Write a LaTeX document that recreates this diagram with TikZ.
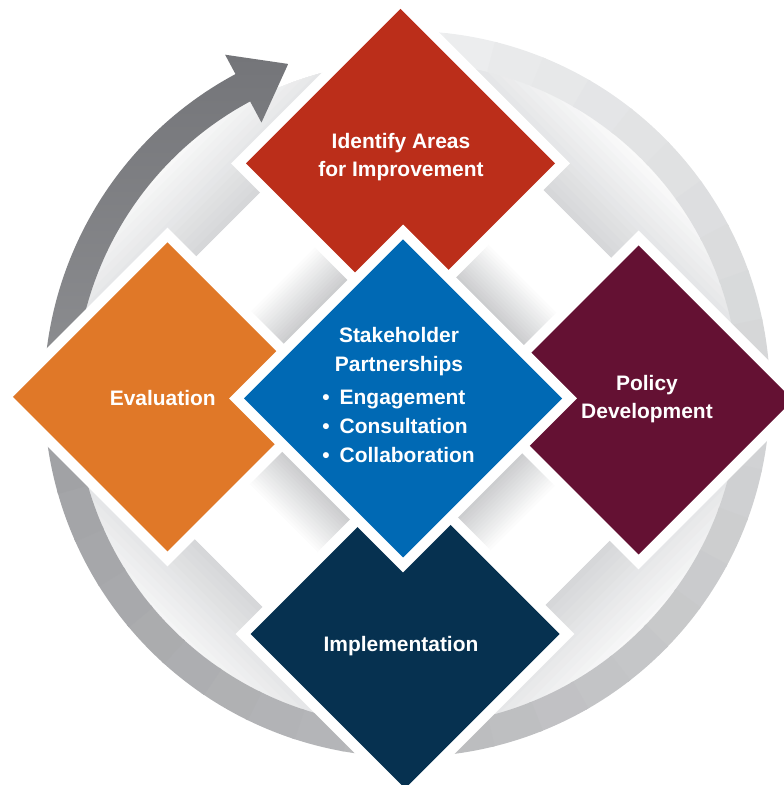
\documentclass[tikz,border=0pt]{standalone}
\usepackage{fontspec}
\setmainfont{Liberation Sans}
\usetikzlibrary{shapes.geometric}

\definecolor{tileRed}{RGB}{187,46,26}
\definecolor{tileOrange}{RGB}{224,120,40}
\definecolor{tileBlue}{RGB}{0,105,180}
\definecolor{tilePlum}{RGB}{100,17,51}
\definecolor{tileNavy}{RGB}{6,49,80}
\definecolor{ringLight}{RGB}{238,239,240}
\definecolor{ringDark}{RGB}{158,159,162}
\definecolor{arrowTop}{RGB}{116,117,121}
\definecolor{arrowBot}{RGB}{143,144,147}
\definecolor{bandGrey}{RGB}{214,215,217}
\definecolor{shadeGrey}{RGB}{204,205,207}

\begin{document}
\begin{tikzpicture}[
    tile/.style = {diamond, aspect=1, inner sep=0pt, outer sep=0pt,
                   minimum size=7.725cm,
                   preaction={draw=white, line width=0.53cm}},
    hub/.style  = {tile, minimum size=7.95cm},
    lbl/.style  = {text=white, align=center, inner sep=0pt,
                   font=\fontsize{14.9pt}{20.4pt}\selectfont\bfseries},
]

\useasboundingbox (0,0) rectangle (19.6,19.625);

%% ---- Soft shadows in the four gaps ----
\begin{scope}
  \clip (10.175,9.775) circle (8.3);
  \foreach \ang in {45,135,225,315} {
    \begin{scope}[shift={(10.075,9.6625)}, rotate=\ang]
      \foreach \k in {1,...,16} {
        \pgfmathtruncatemacro\pc{100*\k/16}
        \fill[bandGrey!\pc!white] (6.175,-6) rectangle ({6.175+2.5*(17-\k)/16},6);
        \fill[shadeGrey!\pc!white] (2.9,-1.6) rectangle ({3.075+1.15*(17-\k)/16},1.6);
      }
    \end{scope}
  }
\end{scope}

%% ---- Grey ring and cycle arrow ----
\begin{scope}[shift={(10.175,9.775)}]
  \foreach \k in {0,...,33} {
    \pgfmathtruncatemacro\pc{100*\k/33}
    \draw[ringDark!\pc!ringLight, line width=0.775cm]
      ({92-8*\k}:8.6875) arc[start angle={92-8*\k}, end angle={83.5-8*\k}, radius=8.6875];
  }
  \shade[top color=arrowTop, bottom color=arrowBot]
    (182:9.075) arc[start angle=182, end angle=118.2, radius=9.075]
    -- (118.2:9.625) -- (109.8:8.77) -- (118.2:7.7) -- (118.2:8.3)
    arc[start angle=118.2, end angle=182, radius=8.3] -- cycle;
\end{scope}

%% ---- Diamonds ----
\node[tile, fill=tileRed]    (dN) at (10.0125,15.5375) {};
\node[tile, fill=tileOrange] (dW) at (4.1875,9.7)      {};
\node[tile, fill=tilePlum]   (dE) at (15.9625,9.625)   {};
\node[tile, fill=tileNavy]   (dS) at (10.125,3.775)    {};
\node[hub,  fill=tileBlue]   (dC) at (10.075,9.6625)   {};

%% ---- Labels ----
\node[lbl] (lN) at (10.025,15.699) {Identify Areas\\for Improvement};
\node[lbl] (lW) at (4.07,9.6675)   {Evaluation};
\node[lbl] (lE) at (16.175,9.645)  {Policy\\Development};
\node[lbl] (lS) at (10.025,3.474)  {Implementation};
\node[lbl] (lC) at (9.975,9.754)
    {Stakeholder\\Partnerships\\[0.12cm]
     \makebox[3.83cm][l]{\textbullet\hspace{0.25cm}Engagement}\\
     \makebox[3.83cm][l]{\textbullet\hspace{0.25cm}Consultation}\\
     \makebox[3.83cm][l]{\textbullet\hspace{0.25cm}Collaboration}};

\end{tikzpicture}
\end{document}
